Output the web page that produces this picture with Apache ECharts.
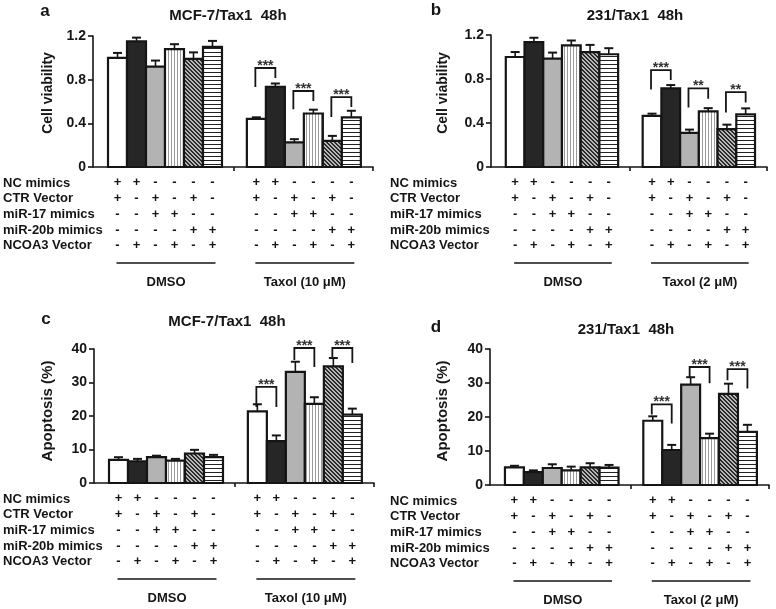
<!DOCTYPE html>
<html><head><meta charset="utf-8">
<script src="https://cdn.jsdelivr.net/npm/echarts@6/dist/echarts.min.js"></script>
<style>html,body{margin:0;padding:0;background:#fff}#c{width:776px;height:609px}</style>
</head><body><div id="c"></div>
<script>
// ---------- data ----------
const rowLabels = ['NC mimics', 'CTR Vector', 'miR-17 mimics', 'miR-20b mimics', 'NCOA3 Vector'];
const conditions = [
  ['+', '+', '-', '-', '-', '-'],
  ['+', '-', '+', '-', '+', '-'],
  ['-', '-', '+', '+', '-', '-'],
  ['-', '-', '-', '-', '+', '+'],
  ['-', '+', '-', '+', '-', '+']
];
const panelLetters = ['a', 'b', 'c', 'd'];
const panelTitles = ['MCF-7/Tax1  48h', '231/Tax1  48h', 'MCF-7/Tax1  48h', '231/Tax1  48h'];
const yNames = ['Cell viability', 'Cell viability', 'Apoptosis (%)', 'Apoptosis (%)'];
const groupLabelsMCF = ['DMSO', 'Taxol (10 \u03bcM)'];
const groupLabels231 = ['DMSO', 'Taxol (2 \u03bcM)'];
const viabTicks = [0, 0.4, 0.8, 1.2];
const apopTicks = [0, 10, 20, 30, 40];

// panel a : MCF-7/Tax1 viability
const aDmso = [1.00, 1.15, 0.92, 1.08, 0.99, 1.10];
const aDmsoErr = [0.045, 0.035, 0.055, 0.045, 0.06, 0.055];
const aTaxol = [0.44, 0.735, 0.225, 0.49, 0.24, 0.455];
const aTaxolErr = [0.015, 0.03, 0.03, 0.035, 0.045, 0.06];
// panel b : 231/Tax1 viability
const bDmso = [1.00, 1.135, 0.985, 1.105, 1.045, 1.025];
const bDmsoErr = [0.045, 0.04, 0.055, 0.045, 0.065, 0.055];
const bTaxol = [0.465, 0.715, 0.31, 0.505, 0.345, 0.478];
const bTaxolErr = [0.02, 0.03, 0.03, 0.03, 0.04, 0.055];
// panel c : MCF-7/Tax1 apoptosis
const cDmso = [6.9, 6.5, 7.7, 6.7, 8.8, 7.7];
const cDmsoErr = [0.8, 0.7, 0.45, 0.5, 1.1, 0.7];
const cTaxol = [21.4, 12.5, 33.2, 23.6, 34.8, 20.4];
const cTaxolErr = [2.1, 1.7, 3.0, 2.0, 2.5, 1.8];
// panel d : 231/Tax1 apoptosis
const dDmso = [5.2, 3.8, 5.0, 4.3, 5.2, 5.1];
const dDmsoErr = [0.45, 0.5, 1.1, 1.1, 1.2, 0.8];
const dTaxol = [18.9, 10.3, 29.5, 13.8, 26.8, 15.6];
const dTaxolErr = [1.3, 1.5, 2.2, 1.3, 3.0, 2.1];

// significance brackets: [left taxol bar, right taxol bar, top, left leg bottom, right leg bottom]
const aSig = [[0, 1, 0.907, 0.733, 0.815], [2, 3, 0.696, 0.53, 0.605], [4, 5, 0.64, 0.458, 0.55]];
const aSigText = ['***', '***', '***'];
const bSig = [[0, 1, 0.88, 0.705, 0.79], [2, 3, 0.714, 0.54, 0.62], [4, 5, 0.68, 0.495, 0.586]];
const bSigText = ['***', '**', '**'];
const cSig = [[0, 1, 28.7, 22.7, 22.7], [2, 3, 40.3, 36.7, 34.6], [4, 5, 40.3, 37.6, 35.8]];
const cSigText = ['***', '***', '***'];
const dSig = [[0, 1, 23.7, 20.7, 18.1], [2, 3, 34.7, 31.7, 29.9], [4, 5, 34.1, 30.8, 28.4]];
const dSigText = ['***', '***', '***'];

// ---------- layout ----------
const XMAX = 14.74, DMSO_START = 0.79, TAX_START = 8.1, BREAK = 7.42;
const FONT = '"Liberation Sans", Arial, Helvetica, sans-serif';
const INK = '#151515';
const panels = [
  { dmso: aDmso, dErr: aDmsoErr, tax: aTaxol, tErr: aTaxolErr, sig: aSig, sigText: aSigText, ticks: viabTicks, groups: groupLabelsMCF,
    grid: { left: 93, top: 36, width: 280, height: 131 }, letter: [45, 11], title: [228, 16], yName: [48, 93], yNameSize: 14, rowX: 3 },
  { dmso: bDmso, dErr: bDmsoErr, tax: bTaxol, tErr: bTaxolErr, sig: bSig, sigText: bSigText, ticks: viabTicks, groups: groupLabels231,
    grid: { left: 491, top: 35, width: 276, height: 132 }, letter: [436, 10], title: [635, 16], yName: [443, 93], yNameSize: 14, rowX: 390 },
  { dmso: cDmso, dErr: cDmsoErr, tax: cTaxol, tErr: cTaxolErr, sig: cSig, sigText: cSigText, ticks: apopTicks, groups: groupLabelsMCF,
    grid: { left: 94, top: 349, width: 280, height: 134 }, letter: [46, 319], title: [227, 322], yName: [48, 411], yNameSize: 15, rowX: 3 },
  { dmso: dDmso, dErr: dDmsoErr, tax: dTaxol, tErr: dTaxolErr, sig: dSig, sigText: dSigText, ticks: apopTicks, groups: groupLabels231,
    grid: { left: 490, top: 349, width: 279, height: 136 }, letter: [436, 327], title: [626, 330], yName: [443, 411], yNameSize: 15, rowX: 390 }
];

// ---------- patterns ----------
function mkCanvas(w, h, draw) {
  const c = document.createElement('canvas'); c.width = w; c.height = h;
  const g = c.getContext('2d'); draw(g); return c;
}
const patVert = mkCanvas(3, 1, g => { g.fillStyle = '#fff'; g.fillRect(0, 0, 3, 1); g.fillStyle = '#9a9a9a'; g.fillRect(0, 0, 1, 1); });
const patDiag = mkCanvas(4, 4, g => {
  g.fillStyle = '#b8b8b8'; g.fillRect(0, 0, 4, 4); g.fillStyle = '#2a2a2a';
  for (let i = 0; i < 4; i++) { g.fillRect(i, i, 1, 1); g.fillRect((i + 1) % 4, i, 1, 1); }
});
const patHoriz = mkCanvas(1, 4, g => { g.fillStyle = '#fff'; g.fillRect(0, 0, 1, 4); g.fillStyle = '#222'; g.fillRect(0, 0, 1, 1); });
const fills = ['#ffffff', '#262626', '#b3b3b3', { image: patVert, repeat: 'repeat' }, { image: patDiag, repeat: 'repeat' }, { image: patHoriz, repeat: 'repeat' }];

const dmsoPos = [0, 1, 2, 3, 4, 5].map(i => DMSO_START + 0.5 + i);
const taxPos = [0, 1, 2, 3, 4, 5].map(i => TAX_START + 0.5 + i);
const allPos = dmsoPos.concat(taxPos);

function colText(v) {
  let idx = -1;
  allPos.forEach((p, i) => { if (Math.abs(p - v) < 0.01) idx = i % 6; });
  if (idx < 0) return '';
  return conditions.map(r => r[idx]).join('\n');
}

function renderBar(params, api) {
  const x = api.value(0), y = api.value(1), e = api.value(2), p = api.value(3);
  const base = api.coord([x, 0]), top = api.coord([x, y]), et = api.coord([x, y + e]);
  const w = api.size([1, 0])[0];
  return { type: 'group', children: [
    { type: 'line', shape: { x1: top[0], y1: top[1], x2: et[0], y2: et[1] }, style: { stroke: INK, lineWidth: 1.6 } },
    { type: 'line', shape: { x1: top[0] - 4.5, y1: et[1], x2: top[0] + 4.5, y2: et[1] }, style: { stroke: INK, lineWidth: 2 } },
    { type: 'rect', shape: { x: base[0] - w / 2, y: top[1], width: w, height: base[1] - top[1] }, style: { fill: fills[p], stroke: INK, lineWidth: 2.2 } }
  ] };
}

function renderSig(sigText) {
  return function (params, api) {
    const l = api.value(0), r = api.value(1), t = api.value(2), lb = api.value(3), rb = api.value(4);
    const pT1 = api.coord([l, t]), pT2 = api.coord([r, t]), pL = api.coord([l, lb]), pR = api.coord([r, rb]);
    return { type: 'group', children: [
      { type: 'polyline', shape: { points: [[pL[0] - 1, pL[1]], [pT1[0] - 1, pT1[1]], [pT2[0], pT2[1]], [pR[0], pR[1]]] }, style: { stroke: INK, lineWidth: 1.8, fill: null } },
      { type: 'text', x: (pT1[0] + pT2[0]) / 2 - 0.5, y: pT1[1] - 2, style: { text: sigText[params.dataIndex], font: 'bold 14px ' + FONT, fill: '#333', textAlign: 'center', textVerticalAlign: 'middle' } }
    ] };
  };
}

const grids = [], xAxes = [], yAxes = [], series = [], graphics = [];
panels.forEach((P, k) => {
  grids.push(Object.assign({ containLabel: false }, P.grid));
  xAxes.push({
    gridIndex: k, type: 'value', min: 0, max: XMAX, splitLine: { show: false },
    axisLine: { show: true, onZero: false, lineStyle: { color: INK, width: 1.6 } },
    axisTick: { show: true, customValues: [BREAK, XMAX], length: 4, lineStyle: { color: INK, width: 1.6 } },
    axisLabel: { show: true, customValues: allPos, formatter: colText, fontSize: 13, fontWeight: 'bold', fontFamily: FONT,
      lineHeight: 15.7, margin: 8, color: INK, align: 'center' }
  });
  const tk = P.ticks;
  yAxes.push({
    gridIndex: k, type: 'value', min: tk[0], max: tk[tk.length - 1], interval: tk[1] - tk[0], splitLine: { show: false },
    axisLine: { show: true, lineStyle: { color: INK, width: 1.6 } },
    axisTick: { show: true, length: 5, lineStyle: { color: INK, width: 1.6 } },
    axisLabel: { fontSize: 14, fontWeight: 'bold', fontFamily: FONT, color: INK, margin: 7,
      formatter: v => (tk[1] < 1 ? (v === 0 ? '0' : v.toFixed(1)) : String(Math.round(v))) }
  });
  const barData = [];
  for (let i = 0; i < 6; i++) barData.push([dmsoPos[i], P.dmso[i], P.dErr[i], i]);
  for (let i = 0; i < 6; i++) barData.push([taxPos[i], P.tax[i], P.tErr[i], i]);
  series.push({ type: 'custom', xAxisIndex: k, yAxisIndex: k, renderItem: renderBar, data: barData, clip: false, silent: true });
  series.push({ type: 'custom', xAxisIndex: k, yAxisIndex: k, renderItem: renderSig(P.sigText), clip: false, silent: true,
    data: P.sig.map(s => [taxPos[s[0]], taxPos[s[1]], s[2], s[3], s[4]]) });

  // decorations
  const g = P.grid, axisY = g.top + g.height, unit = g.width / XMAX;
  const px = v => g.left + v * unit;
  graphics.push({ type: 'text', x: P.letter[0], y: P.letter[1], style: { text: panelLetters[k], font: 'bold 17px ' + FONT, fill: INK, textAlign: 'center', textVerticalAlign: 'middle' } });
  graphics.push({ type: 'text', x: P.title[0], y: P.title[1], style: { text: panelTitles[k], font: 'bold 15px ' + FONT, fill: INK, textAlign: 'center', textVerticalAlign: 'middle' } });
  graphics.push({ type: 'text', x: P.yName[0], y: P.yName[1], rotation: Math.PI / 2, style: { text: yNames[k], font: 'bold ' + P.yNameSize + 'px ' + FONT, fill: INK, textAlign: 'center', textVerticalAlign: 'middle' } });
  rowLabels.forEach((t, r) => {
    graphics.push({ type: 'text', x: P.rowX, y: axisY + 16 + r * 15.7, style: { text: t, font: 'bold 13px ' + FONT, fill: INK, textAlign: 'left', textVerticalAlign: 'middle' } });
  });
  [dmsoPos, taxPos].forEach((pos, gi) => {
    const x1 = px(pos[0]) - 1, x2 = px(pos[5]) + 3;
    graphics.push({ type: 'line', shape: { x1: x1, y1: axisY + 96, x2: x2, y2: axisY + 96 }, style: { stroke: INK, lineWidth: 1.6 } });
    graphics.push({ type: 'text', x: (x1 + x2) / 2, y: axisY + 115, style: { text: P.groups[gi], font: 'bold 13px ' + FONT, fill: INK, textAlign: 'center', textVerticalAlign: 'middle' } });
  });
});

const chart = echarts.init(document.getElementById('c'), null, { renderer: 'canvas' });
chart.setOption({ backgroundColor: '#fff', animation: false, grid: grids, xAxis: xAxes, yAxis: yAxes, series: series, graphic: graphics });
</script></body></html>
